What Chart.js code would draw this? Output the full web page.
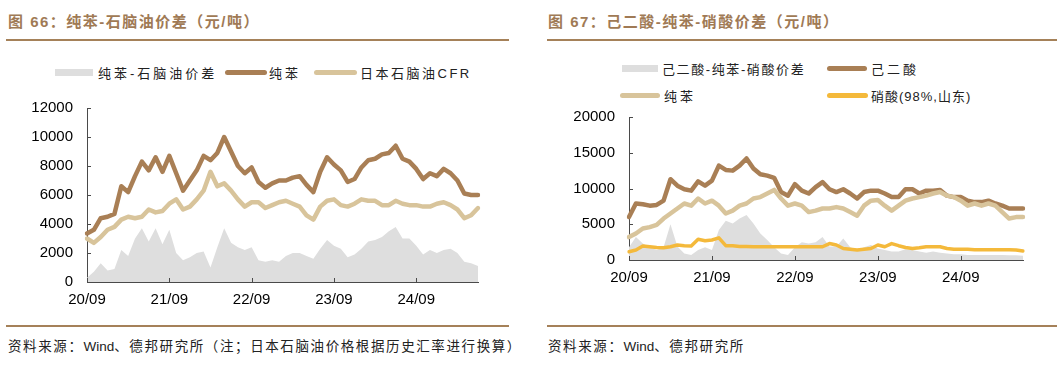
<!DOCTYPE html>
<html>
<head>
<meta charset="utf-8">
<script src="https://cdn.jsdelivr.net/npm/chart.js@4"></script>
<style>
  body { margin: 0; background: #fff; }
  #page { position: relative; width: 1063px; height: 367px; overflow: hidden; font-family: "Liberation Sans", "Noto Sans CJK SC", sans-serif; }
  .title { position: absolute; top: 10px; font: bold 15px "Liberation Sans", "Noto Sans CJK SC"; color: #a07a55; letter-spacing: 1.5px; white-space: nowrap; }
  .rule { position: absolute; height: 2px; background: #a58159; }
  .src { position: absolute; top: 335px; font: 13.5px "Liberation Sans", "Noto Sans CJK SC"; color: #222; letter-spacing: 1.6px; white-space: nowrap; }
  .src span { letter-spacing: 0; }
  .box { position: absolute; }
  .leg { position: absolute; font: 13px "Liberation Sans", "Noto Sans CJK SC"; color: #222; white-space: nowrap; }
  .sw { position: absolute; }
</style>
</head>
<body>
<div id="page">
  <div class="title" style="left:8px">图 66：纯苯-石脑油价差（元/吨）</div>
  <div class="rule" style="left:6px; width:503px; top:39px"></div>
  <div class="title" style="left:548px">图 67：己二酸-纯苯-硝酸价差（元/吨）</div>
  <div class="rule" style="left:547px; width:510px; top:39px"></div>

  <!-- left legend -->
  <div class="sw" style="left:55px; top:69px; width:38px; height:7px; background:#dedede"></div>
  <div class="leg" style="left:98px; top:63px; letter-spacing:3px">纯苯-石脑油价差</div>
  <div class="sw" style="left:225px; top:70px; width:42px; height:5px; border-radius:3px; background:#a97f55"></div>
  <div class="leg" style="left:269px; top:63px; letter-spacing:3px">纯苯</div>
  <div class="sw" style="left:314px; top:70px; width:43px; height:5px; border-radius:3px; background:#d8c49b"></div>
  <div class="leg" style="left:360px; top:63px; letter-spacing:2.5px">日本石脑油CFR</div>

  <!-- right legend -->
  <div class="sw" style="left:622px; top:65px; width:36px; height:7px; background:#dedede"></div>
  <div class="leg" style="left:662px; top:59px; letter-spacing:1.6px">己二酸-纯苯-硝酸价差</div>
  <div class="sw" style="left:827px; top:66px; width:40px; height:5px; border-radius:3px; background:#a97f55"></div>
  <div class="leg" style="left:871px; top:59px; letter-spacing:3px">己二酸</div>
  <div class="sw" style="left:620px; top:93px; width:40px; height:5px; border-radius:3px; background:#d8c49b"></div>
  <div class="leg" style="left:664px; top:86px; letter-spacing:3px">纯苯</div>
  <div class="sw" style="left:827px; top:93px; width:41px; height:5px; border-radius:3px; background:#f4b93b"></div>
  <div class="leg" style="left:871px; top:86px; letter-spacing:1px">硝酸(98%,山东)</div>

  <div class="box" style="left:20px; top:85px; width:470px; height:230px"><canvas id="left"></canvas></div>
  <div class="box" style="left:560px; top:94px; width:475px; height:201px"><canvas id="right"></canvas></div>

  <div class="rule" style="left:6px; width:503px; top:325px"></div>
  <div class="rule" style="left:547px; width:510px; top:325px"></div>
  <div class="src" style="left:8px">资料来源：<span>Wind</span>、德邦研究所（注；日本石脑油价格根据历史汇率进行换算）</div>
  <div class="src" style="left:548px">资料来源：<span>Wind</span>、德邦研究所</div>
</div>

<script>
// months 2020/09 .. 2025/06
const months = [
  '20/09','20/10','20/11','20/12',
  '21/01','21/02','21/03','21/04','21/05','21/06','21/07','21/08','21/09','21/10','21/11','21/12',
  '22/01','22/02','22/03','22/04','22/05','22/06','22/07','22/08','22/09','22/10','22/11','22/12',
  '23/01','23/02','23/03','23/04','23/05','23/06','23/07','23/08','23/09','23/10','23/11','23/12',
  '24/01','24/02','24/03','24/04','24/05','24/06','24/07','24/08','24/09','24/10','24/11','24/12',
  '25/01','25/02','25/03','25/04','25/05','25/06'
];

// 图66
const benzeneL = [
  3350, 3600, 4400, 4500,
  4700, 6600, 6200, 7300, 8300, 7700, 8600, 7600, 8700, 7500, 6300, 7000,
  7700, 8700, 8400, 8900, 10000, 9000, 8000, 7500, 7900, 6900, 6500, 6800,
  7000, 7000, 7200, 7300, 6700, 6200, 7600, 8600, 8100, 7700, 6900, 7100,
  7900, 8400, 8500, 8800, 8900, 9400, 8500, 8300, 7800, 7100, 7500, 7300,
  7800, 7500, 7000, 6100, 6000, 6000
];
const naphthaCFR = [
  3000, 2700, 3100, 3600,
  3800, 4300, 4500, 4400, 4500, 5000, 4800, 4900, 5400, 5700, 5000, 5200,
  5700, 6300, 7600, 6600, 6800, 6300, 5700, 5200, 5500, 5500, 5100, 5300,
  5500, 5600, 5400, 5200, 4600, 4300, 5200, 5600, 5700, 5300, 5200, 5400,
  5700, 5600, 5600, 5300, 5300, 5600, 5400, 5300, 5300, 5200, 5200, 5400,
  5500, 5300, 5000, 4400, 4600, 5100
];
const spreadL = [
  300, 700, 1300, 800,
  900, 2200, 1800, 3000, 3700, 2800, 3700, 2600, 3600, 2000, 1500, 1700,
  2000, 2100, 1000, 2400, 3700, 2700, 2400, 2200, 2400, 1500, 1400, 1500,
  1400, 1800, 2000, 2000, 1800, 1600, 2300, 2900, 2500, 2300, 1700, 1900,
  2300, 2800, 2900, 3100, 3500, 3800, 3000, 3000, 2500, 1900, 2200, 2000,
  2200, 2300, 2000, 1400, 1300, 1100
];

// 图67
const adipic = [
  6000, 7900, 7800, 7600,
  7700, 8300, 11300, 10400, 9900, 9700, 11000, 10400, 11100, 13200, 12600, 12500,
  13200, 14200, 12800, 12000, 11800, 11500, 9500, 9000, 10600, 9700, 9300, 10200,
  10900, 9900, 9500, 9900, 9300, 8600, 9500, 9700, 9700, 9300, 8800, 8800,
  9900, 9900, 9300, 9700, 9700, 9800, 9000, 8800, 8800, 8300, 8100, 8100,
  8300, 7900, 7600, 7200, 7200, 7200
];
const benzeneR = [
  3200, 3700, 4400, 4600,
  4900, 5800, 6500, 7200, 7900, 7600, 8600, 7900, 8300, 7600, 6500, 6900,
  7600, 7900, 8600, 8800, 9300, 9800, 8600, 7600, 7900, 7600, 6700, 6900,
  7200, 7200, 7400, 7200, 6700, 6200, 7600, 8300, 8400, 7600, 6900, 7600,
  8300, 8600, 8800, 9000, 9300, 9500, 9000, 8800, 8300, 7600, 7900, 7600,
  7900, 7600, 6700, 5800, 6000, 6000
];
const nitric = [
  1150, 1400, 1950, 1850,
  1750, 1700, 1850, 2100, 2000, 1950, 2900, 2700, 2800, 3100, 2000, 2000,
  1900, 1900, 1850, 1850, 1850, 1850, 1850, 1850, 1850, 1850, 1850, 1850,
  1850, 2300, 2100, 1600, 1500, 1400, 1500, 1600, 2100, 1850, 2300, 2000,
  1750, 1600, 1700, 1850, 1850, 1850, 1600, 1500, 1500, 1500, 1450, 1450,
  1450, 1450, 1450, 1450, 1400, 1250
];
const spreadR = [
  1800, 3200, 2300, 1800,
  1400, 1800, 5000, 1900, 900, 700, 1400, 1800, 1400, 4200, 5500, 5100,
  5800, 6300, 5100, 3700, 2800, 1800, 900, 700, 1800, 2500, 2300, 2500,
  3200, 1900, 1900, 3000, 1800, 1400, 1800, 2100, 1600, 1400, 1200, 1200,
  1500, 1400, 1200, 1000, 1200, 1000, 900, 800, 800, 700, 700, 700,
  700, 700, 700, 650, 650, 600
];

const DARK = '#a97f55';
const LIGHT = '#d8c49b';
const GREY = '#dedede';
const ORANGE = '#f4b93b';
const AXIS = '#4a4a4a';

// short tick marks pointing into the plot
const innerTicks = {
  id: 'innerTicks',
  afterDraw(chart) {
    const { ctx, chartArea, scales: { x, y } } = chart;
    ctx.save();
    ctx.strokeStyle = AXIS;
    ctx.lineWidth = 1;
    ctx.beginPath();
    chart.data.labels.forEach((l, i) => {
      if (!l.endsWith('/09')) return;
      const px = Math.round(x.getPixelForValue(i)) + 0.5;
      ctx.moveTo(px, chartArea.bottom);
      ctx.lineTo(px, chartArea.bottom - 4);
    });
    y.ticks.forEach((t, i) => {
      const py = Math.round(y.getPixelForTick(i)) + 0.5;
      ctx.moveTo(chartArea.left, py);
      ctx.lineTo(chartArea.left + 4, py);
    });
    ctx.stroke();
    ctx.restore();
  }
};

const line = (data, color, width, order) => ({
  data, borderColor: color, borderWidth: width, pointRadius: 0,
  fill: false, tension: 0, order, borderJoinStyle: 'round', borderCapStyle: 'round'
});
const area = (data, order) => ({
  data, backgroundColor: GREY, borderWidth: 0, pointRadius: 0,
  fill: 'origin', tension: 0, order
});

const makeChart = (id, datasets, yMax, yStep, yWidth, xHeight, padTop) => new Chart(document.getElementById(id), {
  type: 'line',
  data: { labels: months, datasets },
  options: {
    responsive: true,
    maintainAspectRatio: false,
    animation: false,
    layout: { padding: { top: padTop, right: 12, left: 0, bottom: 0 } },
    plugins: { legend: { display: false }, tooltip: { enabled: false } },
    scales: {
      x: {
        grid: { display: false, drawTicks: false },
        border: { color: AXIS, width: 1 },
        afterFit: s => { s.height = xHeight; },
        ticks: {
          autoSkip: false, maxRotation: 0, padding: 9,
          color: '#000', font: { family: 'Liberation Sans', size: 15 },
          callback: function (v) { const l = this.getLabelForValue(v); return l.endsWith('/09') ? l : null; }
        }
      },
      y: {
        min: 0, max: yMax,
        grid: { display: false, drawTicks: false },
        border: { color: AXIS, width: 1 },
        afterFit: s => { s.width = yWidth; },
        ticks: {
          stepSize: yStep, padding: 14, color: '#000', font: { family: 'Liberation Sans', size: 15 },
          callback: v => String(v)
        }
      }
    }
  },
  plugins: [innerTicks]
});

makeChart('left', [
  area(spreadL, 4),
  line(benzeneL, DARK, 4.5, 3),
  line(naphthaCFR, LIGHT, 4.5, 2)
], 12000, 2000, 67, 33, 12);

makeChart('right', [
  area(spreadR, 4),
  line(adipic, DARK, 4.5, 3),
  line(benzeneR, LIGHT, 4.5, 2),
  line(nitric, ORANGE, 3.5, 1)
], 20000, 5000, 69, 35, 21);
</script>
</body>
</html>
